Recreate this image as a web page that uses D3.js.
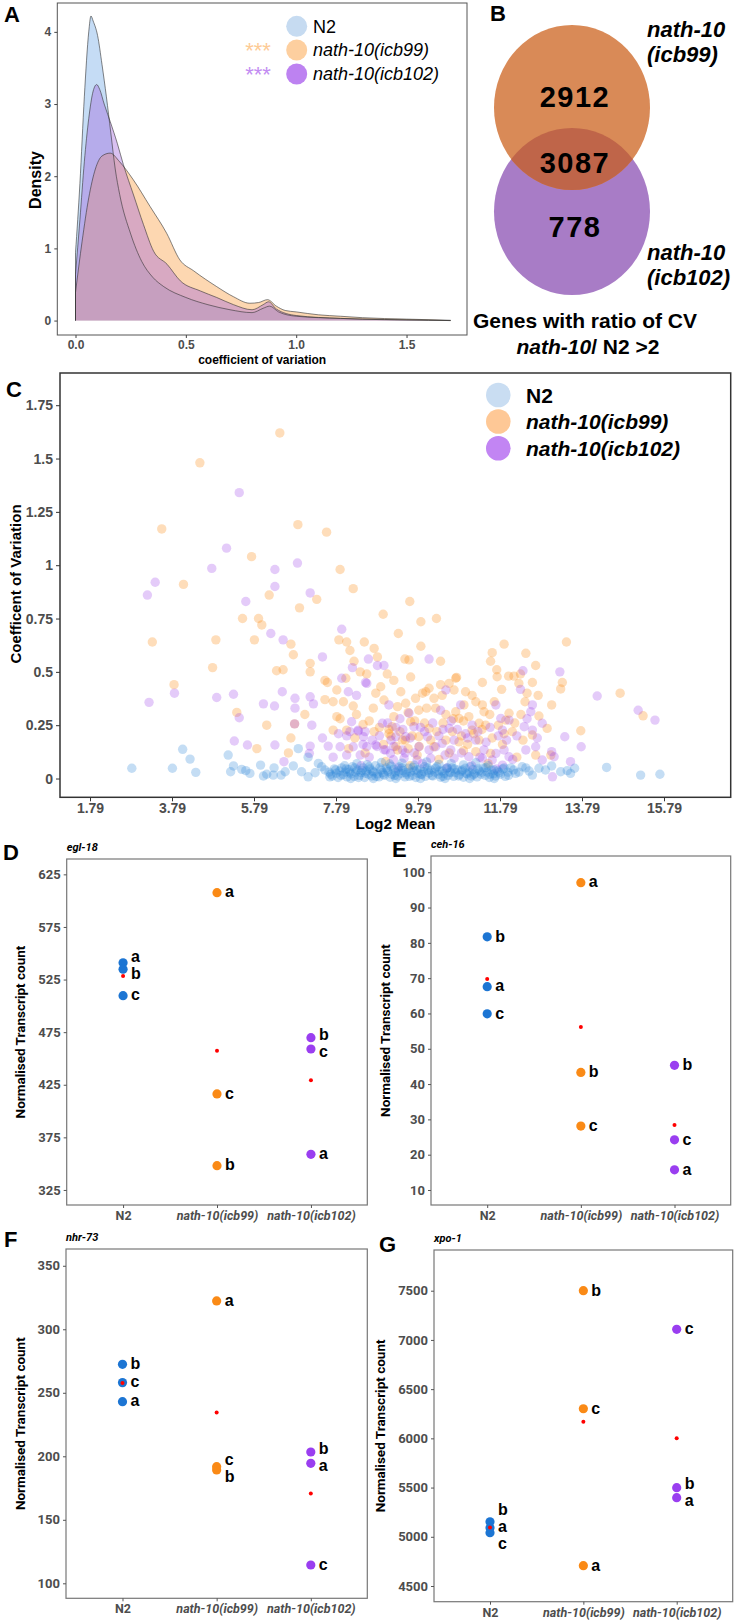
<!DOCTYPE html>
<html><head><meta charset="utf-8">
<script src="https://cdn.jsdelivr.net/npm/d3@7"></script>
<style>body{margin:0;background:#fff}svg{display:block}</style>
</head><body>
<svg id="fig" width="739" height="1621"></svg>
<script>
// ---------------- DATA ----------------
// Panel A: density of coefficient of variation
const densX_N2   = [0,0.02,0.04,0.06,0.07,0.08,0.10,0.12,0.14,0.16,0.18,0.20,0.25,0.30,0.35,0.40,0.50,0.60,0.70,0.80,0.85,0.88,0.92,1.0,1.2,1.4,1.6,1.7];
const densY_N2   = [0.94,1.9,3.1,4.0,4.22,4.15,3.95,3.55,3.1,2.6,2.1,1.75,1.2,0.82,0.6,0.47,0.32,0.22,0.15,0.11,0.17,0.2,0.12,0.06,0.03,0.015,0.005,0];
const densX_icb99 = [0,0.03,0.06,0.09,0.12,0.157,0.2,0.262,0.338,0.413,0.473,0.535,0.64,0.716,0.79,0.83,0.87,0.91,0.95,1.0,1.1,1.2,1.3,1.5,1.7];
const densY_icb99 = [0.39,1.1,1.7,2.1,2.28,2.32,2.2,1.95,1.58,1.21,0.84,0.69,0.47,0.33,0.24,0.25,0.29,0.2,0.14,0.12,0.08,0.06,0.04,0.02,0.004];
const densX_icb102 = [0,0.02,0.04,0.06,0.08,0.096,0.11,0.13,0.157,0.19,0.217,0.263,0.308,0.354,0.415,0.475,0.566,0.64,0.716,0.80,0.85,0.875,0.91,1.0,1.2,1.4,1.6,1.7];
const densY_icb102 = [0.64,1.4,2.2,2.8,3.18,3.27,3.2,3.0,2.76,2.45,2.16,1.74,1.33,0.96,0.78,0.55,0.41,0.32,0.22,0.15,0.22,0.26,0.16,0.07,0.03,0.012,0.004,0];
const densTicksX = [0,0.5,1,1.5];
const densTicksY = [0,1,2,3,4];

// Panel B: Venn counts
const vennCounts = [2912, 3087, 778];

// Panel C: scatter [log2 mean, CV]
const scatN2 = [[2.81,0.048],[3.80,0.048],[4.05,0.137],[4.23,0.091],[4.37,0.029],[5.16,0.11],[5.29,0.059],[5.22,0.032],[5.49,0.043],[5.59,0.037],[5.69,0.024],[5.95,0.063],[6.02,0.012],[6.10,0.02],[6.28,0.05],[6.26,0.016],[6.45,0.016],[6.55,0.032],[6.75,0.059],[6.87,0.14],[6.95,0.032],[7.11,0.10],[7.11,0.008],[7.28,0.027],[7.36,0.071],[7.44,0.055],[7.52,0.04],[7.64,0.008],
[7.62,0.03],[7.70,0.012],[7.75,0.045],[7.80,0.025],[7.84,0.005],[7.88,0.035],[7.93,0.05],[7.97,0.018],[8.02,0.03],[8.06,0.008],[8.10,0.042],[8.15,0.022],[8.19,0.055],[8.23,0.01],[8.27,0.03],[8.31,0.04],[8.36,0.015],[8.40,0.028],[8.45,0.05],[8.49,0.005],[8.53,0.035],[8.58,0.02],[8.62,0.045],[8.66,0.012],[8.71,0.03],[8.75,0.06],[8.80,0.022],[8.84,0.008],[8.89,0.04],[8.93,0.028],[8.97,0.015],[9.02,0.05],[9.06,0.032],[9.11,0.006],[9.15,0.02],[9.20,0.044],[9.24,0.03],[9.29,0.012],[9.33,0.056],[9.38,0.025],[9.42,0.038],[9.47,0.008],[9.51,0.02],[9.56,0.048],[9.60,0.03],[9.65,0.014],[9.70,0.036],[9.74,0.005],[9.79,0.025],[9.84,0.045],[9.88,0.018],[9.93,0.032],[9.97,0.01],[10.02,0.05],[10.06,0.026],[10.11,0.04],[10.15,0.012],[10.20,0.03],[10.25,0.055],[10.29,0.02],[10.34,0.006],[10.38,0.036],[10.43,0.024],[10.48,0.045],[10.52,0.014],[10.57,0.03],[10.62,0.05],[10.66,0.01],[10.71,0.028],[10.76,0.04],[10.80,0.018],[10.85,0.034],[10.90,0.006],[10.94,0.048],[10.99,0.022],[11.04,0.03],[11.09,0.012],[11.13,0.042],[11.18,0.025],[11.23,0.008],[11.28,0.036],[11.33,0.02],[11.38,0.05],[11.43,0.015],[11.48,0.03],[11.53,0.005],[11.58,0.04],[11.63,0.022],[11.68,0.012],[11.74,0.035],[11.80,0.02],[11.86,0.045],[11.92,0.01],[11.98,0.03],[12.05,0.05],
[8.0,0.06],[8.3,0.07],[8.55,0.065],[8.9,0.075],[9.1,0.068],[9.4,0.072],[9.7,0.062],[10.0,0.078],[10.3,0.066],[10.6,0.07],[10.9,0.064],[11.2,0.074],[11.5,0.06],[8.15,0.0],[8.7,0.0],[9.25,0.0],[9.85,0.0],[10.45,0.0],[11.05,0.0],[11.65,0.0],
[7.66,0.02],[7.78,0.04],[7.91,0.015],[8.04,0.045],[8.12,0.03],[8.25,0.05],[8.34,0.005],[8.42,0.038],[8.51,0.025],[8.6,0.055],[8.68,0.035],[8.77,0.01],[8.86,0.05],[8.95,0.02],[9.04,0.04],[9.13,0.058],[9.22,0.015],[9.31,0.035],[9.4,0.05],[9.49,0.028],[9.58,0.01],[9.67,0.052],[9.76,0.04],[9.86,0.02],[9.95,0.055],[10.04,0.038],[10.13,0.015],[10.22,0.048],[10.31,0.035],[10.4,0.01],[10.5,0.05],[10.59,0.028],[10.68,0.045],[10.78,0.012],[10.87,0.04],[10.96,0.025],[11.06,0.055],[11.15,0.018],[11.25,0.045],[11.35,0.03],[11.45,0.052],[11.55,0.02],[11.65,0.04],[11.77,0.028],[11.89,0.05],[12.0,0.015],[12.12,0.04],[12.25,0.03],[12.42,0.05],[12.5,0.035],
[12.33,0.055],[12.74,0.048],[12.90,0.04],[13.05,0.059],[13.27,0.032],[13.43,0.037],[13.61,0.048],[12.17,0.024],[12.58,0.016],[13.51,0.024],[14.39,0.052],[15.22,0.016],[15.69,0.02]];

const scatIcb99 = [[6.42,1.62],[4.47,1.48],[3.54,1.17],[6.86,1.19],[7.56,1.155],[5.73,1.04],[7.89,0.98],[4.07,0.91],[8.21,0.89],[6.16,0.86],[7.32,0.84],[6.90,0.80],[5.51,0.75],[5.90,0.75],[5.98,0.72],[3.31,0.64],[4.86,0.65],[5.80,0.65],[6.69,0.63],[6.75,0.58],[7.86,0.65],[8.05,0.64],[8.13,0.60],[8.23,0.55],[8.48,0.64],[7.16,0.54],[7.16,0.50],[4.78,0.52],[6.34,0.505],[6.50,0.51],[8.38,0.50],[8.54,0.49],[7.52,0.46],[7.58,0.45],[8.03,0.47],[3.84,0.44],
[9.59,0.83],[8.94,0.77],[9.86,0.735],[10.24,0.75],[9.31,0.68],[9.86,0.62],[13.41,0.64],[11.89,0.63],[11.60,0.59],[12.42,0.587],[8.72,0.61],[8.80,0.57],[9.47,0.56],[9.57,0.556],[10.34,0.55],[11.56,0.55],[11.71,0.51],[12.66,0.53],[9.61,0.476],[10.71,0.47],[11.72,0.477],[12.00,0.48],[12.13,0.48],[9.04,0.49],[9.20,0.46],[11.36,0.45],[13.31,0.45],[12.58,0.45],
[5.37,0.31],[6.10,0.25],[5.86,0.14],[6.69,0.19],[6.63,0.12],[7.03,0.30],[7.81,0.29],[7.89,0.28],[7.52,0.37],[7.72,0.36],[7.97,0.36],[7.81,0.415],[7.72,0.227],[8.21,0.34],[8.29,0.30],[8.05,0.227],
[13.27,0.42],[14.72,0.40],[15.28,0.294],[13.76,0.224],[13.05,0.345],[12.94,0.235],[12.74,0.293],[12.72,0.39],[12.45,0.40],[12.25,0.446],[12.29,0.49],[11.83,0.418],[12.01,0.306],[11.93,0.274],[11.89,0.21],[12.09,0.22],[12.35,0.18],[12.58,0.204],[13.03,0.11],[12.66,0.11],[11.44,0.25],[11.54,0.30],[11.36,0.345],[11.20,0.36],[11.11,0.39],[10.95,0.407],[10.91,0.345],[10.67,0.415],[10.73,0.474],[10.55,0.446],[10.34,0.44],[10.38,0.39],[10.18,0.376],[10.06,0.423],[9.98,0.407],[9.90,0.40],[9.73,0.376],[9.37,0.407],[8.88,0.43],[8.76,0.40],[8.96,0.368],[9.29,0.337],[9.49,0.353],[9.81,0.32],[10.22,0.33],[10.47,0.30],[10.79,0.282],[11.03,0.29],[11.28,0.259],[9.16,0.243],[9.61,0.266],[10.06,0.235],[11.11,0.227],[10.63,0.22],[10.47,0.18],[9.81,0.196],[9.41,0.18],[9.08,0.21],[8.72,0.22],[10.18,0.149],[10.79,0.172],[11.20,0.126],[11.56,0.118],[9.29,0.134],[9.77,0.11],[11.28,0.18],[11.40,0.313],[10.71,0.313],
[8.45,0.253],[9.08,0.23],[9.13,0.198],[9.71,0.27],[9.82,0.15],[9.48,0.18],[9.25,0.15],[8.5,0.12],[9.0,0.08],[9.6,0.06],[10.3,0.09],[10.9,0.13],[11.5,0.07],[12.2,0.1],[6.78,0.256],
[8.1,0.14],[8.25,0.19],[8.6,0.27],[8.85,0.24],[8.95,0.16],[9.2,0.29],[9.35,0.22],[9.55,0.14],[9.65,0.2],[9.95,0.26],[10.1,0.18],[10.25,0.22],[10.4,0.26],[10.55,0.12],[10.65,0.28],[10.85,0.2],[11.0,0.16],[11.15,0.21],[11.35,0.23],[11.6,0.19],[11.75,0.25],[11.85,0.16],[12.15,0.26],[12.3,0.3],[8.7,0.33],[9.55,0.31],[10.0,0.33],[10.9,0.27],[11.65,0.36],[12.4,0.36]];

const scatIcb102 = [[5.43,1.34],[5.12,1.08],[4.76,0.985],[3.38,0.92],[3.19,0.86],[6.30,0.98],[6.85,1.01],[6.30,0.90],[5.59,0.83],[7.16,0.87],[6.20,0.68],[6.50,0.65],[7.93,0.70],[7.46,0.57],[8.19,0.52],[7.93,0.47],[8.58,0.56],[8.51,0.45],
[10.06,0.56],[8.96,0.53],[8.80,0.53],[12.35,0.505],[13.25,0.50],
[3.23,0.357],[3.85,0.40],[4.88,0.38],[5.29,0.395],[5.43,0.285],[6.02,0.35],[6.29,0.34],[6.48,0.407],[6.79,0.376],[6.79,0.33],[7.16,0.383],[7.24,0.35],[7.20,0.25],[5.31,0.176],[5.63,0.157],[6.30,0.157],[6.52,0.079],[7.16,0.152],[7.14,0.118],[7.46,0.19],[7.60,0.152],[7.72,0.10],[8.09,0.407],[8.29,0.39],[8.54,0.446],[7.85,0.21],[8.13,0.22],[8.46,0.196],[8.33,0.227],[8.17,0.266],[7.89,0.149],[8.21,0.149],[8.05,0.11],[8.38,0.11],[8.54,0.149],
[14.16,0.387],[15.16,0.32],[15.57,0.274],[13.37,0.196],[13.77,0.149],[12.29,0.418],[12.58,0.345],[12.54,0.313],[12.38,0.243],[12.58,0.227],[12.82,0.259],[12.42,0.134],[12.66,0.149],[13.05,0.126],[12.82,0.087],[13.11,0.102],[13.51,0.079],[10.47,0.415],[10.34,0.32],[11.69,0.345],[11.81,0.282],[12.01,0.274],[11.85,0.227],[11.89,0.134],[12.01,0.102],[11.69,0.118],[11.40,0.134],[11.20,0.18],[11.11,0.25],[10.95,0.21],[10.55,0.235],[10.67,0.18],[10.38,0.165],[10.59,0.134],[10.22,0.149],[10.02,0.196],[10.06,0.134],[9.81,0.149],[9.57,0.306],[9.69,0.243],[9.49,0.196],[9.41,0.134],[9.08,0.345],[8.92,0.259],[8.76,0.157],[9.00,0.134],[9.25,0.196],[9.12,0.118],[9.45,0.095],[9.77,0.087],[10.10,0.095],[10.67,0.095],[11.03,0.102],[11.36,0.095],[11.60,0.087],[11.85,0.063],[13.07,0.008],[10.83,0.345],
[8.33,0.222],[8.67,0.18],[8.79,0.15],[9.13,0.18],[9.42,0.23],[9.48,0.12],[9.19,0.088],[8.96,0.135],[8.4,0.06],[9.3,0.05],[9.9,0.07],[10.5,0.05],[11.1,0.06],[11.7,0.045],[12.1,0.09],[6.78,0.256],
[8.05,0.2],[8.5,0.22],[8.6,0.1],[8.85,0.2],[9.05,0.26],[9.2,0.15],[9.35,0.28],[9.6,0.19],[9.7,0.12],[9.95,0.22],[10.15,0.26],[10.3,0.2],[10.45,0.11],[10.6,0.27],[10.75,0.23],[10.85,0.12],[11.0,0.19],[11.25,0.22],[11.45,0.17],[11.55,0.24],[11.75,0.2],[11.95,0.18],[12.2,0.2],[12.45,0.28],[9.25,0.24],[9.85,0.24],[10.4,0.23],[11.3,0.1],[8.45,0.16],[12.7,0.19]];
const scatTicksX = [1.79,3.79,5.79,7.79,9.79,11.79,13.79,15.79];
const scatTicksY = [0,0.25,0.5,0.75,1,1.25,1.5,1.75];

// Panels D-G: normalised transcript counts per replicate
const groups = ["N2","nath-10(icb99)","nath-10(icb102)"];
const replicates = ["a","b","c"];
const egl18_N2 = [541,534.8,509.7],  egl18_icb99 = [607.6,348.1,416.3], egl18_icb102 = [358.9,469.8,459];
const ceh16_N2 = [67.6,81.7,59.9],   ceh16_icb99 = [97.05,43.3,28.1],   ceh16_icb102 = [15.7,45.3,24.2];
const nhr73_N2 = [243,272.4,258],    nhr73_icb99 = [322.3,189.2,191.8], nhr73_icb102 = [194.5,203.4,114.4];
const xpo1_N2  = [5092,5153,5041],   xpo1_icb99  = [4706,7500,6301],    xpo1_icb102  = [5397,5498.7,7108];
const ticksD = [325,375,425,475,525,575,625];
const ticksE = [10,20,30,40,50,60,70,80,90,100];
const ticksF = [100,150,200,250,300,350];
const ticksG = [4500,5000,5500,6000,6500,7000,7500];

// ---------------- DRAWING ----------------
const svg = d3.select("#fig");
const FA = '"Liberation Sans", Arial, Helvetica, sans-serif';
const FR = 'Roboto, "Liberation Sans", Arial, sans-serif';
const GRAY = "#4d4d4d";

function panelLetter(t,x,y){
  svg.append("text").attr("x",x).attr("y",y).text(t)
    .attr("font-family",FA).attr("font-weight","bold").attr("font-size",22).attr("fill","#000");
}

// ===== Panel A =====
(function(){
  const L=57.3,R=467,T=3,B=335;
  const x=d3.scaleLinear().domain([-0.0825,1.774]).range([L,R]);
  const y=d3.scaleLinear().domain([-0.2,4.4]).range([B,T]);
  const g=svg.append("g");
  g.append("clipPath").attr("id","clipA").append("rect").attr("x",L).attr("y",T).attr("width",R-L).attr("height",B-T);
  const series=[
    {xs:densX_N2,ys:densY_N2,fill:"rgba(140,185,235,0.5)"},
    {xs:densX_icb99,ys:densY_icb99,fill:"rgba(252,175,100,0.5)"},
    {xs:densX_icb102,ys:densY_icb102,fill:"rgba(160,100,220,0.4)"}
  ];
  const area=d3.area().x(d=>x(d[0])).y0(y(0)).y1(d=>y(d[1])).curve(d3.curveMonotoneX);
  const line=d3.line().x(d=>x(d[0])).y(d=>y(d[1])).curve(d3.curveMonotoneX);
  const pg=g.append("g").attr("clip-path","url(#clipA)");
  series.forEach(s=>{
    const pts=s.xs.map((v,i)=>[v,s.ys[i]]);
    pg.append("path").attr("d",area(pts)).attr("fill",s.fill);
  });
  series.forEach(s=>{
    const pts=s.xs.map((v,i)=>[v,s.ys[i]]);
    pg.append("path").attr("d",line(pts)).attr("fill","none").attr("stroke","#333").attr("stroke-width",0.6);
    pg.append("line").attr("x1",x(pts[0][0])).attr("x2",x(pts[0][0])).attr("y1",y(0)).attr("y2",y(pts[0][1])).attr("stroke","#333").attr("stroke-width",0.6);
  });
  g.append("rect").attr("x",L).attr("y",T).attr("width",R-L).attr("height",B-T).attr("fill","none").attr("stroke","#555").attr("stroke-width",1);
  const ya=g.append("g").attr("transform",`translate(${L},0)`).call(d3.axisLeft(y).tickValues(densTicksY).tickSize(3).tickPadding(3).tickFormat(d3.format("d")));
  const xa=g.append("g").attr("transform",`translate(0,${B})`).call(d3.axisBottom(x).tickValues(densTicksX).tickSize(3).tickPadding(2).tickFormat(d3.format(".1f")));
  [ya,xa].forEach(a=>{a.select(".domain").remove();a.selectAll("line").attr("stroke","#444");
    a.selectAll("text").attr("font-family",FA).attr("font-weight","bold").attr("font-size",12).attr("fill",GRAY);});
  g.append("text").attr("transform","translate(41,180) rotate(-90)").attr("text-anchor","middle").text("Density")
    .attr("font-family",FA).attr("font-weight","bold").attr("font-size",16);
  g.append("text").attr("x",(L+R)/2).attr("y",364).attr("text-anchor","middle").text("coefficient of variation")
    .attr("font-family",FA).attr("font-weight","bold").attr("font-size",12);
  // legend
  const leg=[{t:"N2",c:"#c6dbf1",it:false,y:26.3},{t:"nath-10(icb99)",c:"#fdcf9f",it:true,y:50},{t:"nath-10(icb102)",c:"#bd82f1",it:true,y:74}];
  leg.forEach(d=>{
    g.append("circle").attr("cx",296.7).attr("cy",d.y).attr("r",10.5).attr("fill",d.c);
    g.append("text").attr("x",313).attr("y",d.y).attr("dy","0.35em").text(d.t).attr("font-family",FA)
      .attr("font-size",18).attr("font-style",d.it?"italic":"normal").attr("fill","#000");
  });
  g.append("text").attr("x",258).attr("y",58).attr("text-anchor","middle").text("***").attr("font-family",FA).attr("font-size",22).attr("fill","#fdcb96");
  g.append("text").attr("x",258).attr("y",82).attr("text-anchor","middle").text("***").attr("font-family",FA).attr("font-size",22).attr("fill","#c38df2");
  panelLetter("A",4,22);
})();

// ===== Panel B =====
(function(){
  const g=svg.append("g");
  const cx=572, rx=78;
  const top={cy:107.5,ry:82.5}, bot={cy:211.5,ry:83.5};
  g.append("clipPath").attr("id","clipB").append("ellipse").attr("cx",cx).attr("cy",top.cy).attr("rx",rx).attr("ry",top.ry);
  g.append("ellipse").attr("cx",cx).attr("cy",bot.cy).attr("rx",rx).attr("ry",bot.ry).attr("fill","#a87cc6");
  g.append("ellipse").attr("cx",cx).attr("cy",top.cy).attr("rx",rx).attr("ry",top.ry).attr("fill","#d98a57");
  g.append("ellipse").attr("cx",cx).attr("cy",bot.cy).attr("rx",rx).attr("ry",bot.ry).attr("fill","#bf6549").attr("clip-path","url(#clipB)");
  const ys=[97,163,227];
  vennCounts.forEach((v,i)=>{
    g.append("text").attr("x",575).attr("y",ys[i]).attr("dy","0.36em").attr("text-anchor","middle").text(v)
      .attr("font-family",FA).attr("font-weight","bold").attr("font-size",29).attr("letter-spacing",1.5).attr("fill","#000");
  });
  const lab=(t,x,y)=>g.append("text").attr("x",x).attr("y",y).text(t).attr("font-family",FA).attr("font-weight","bold")
      .attr("font-style","italic").attr("font-size",22).attr("fill","#000");
  lab("nath-10",647,37); lab("(icb99)",647,62);
  lab("nath-10",647,260); lab("(icb102)",647,285);
  g.append("text").attr("x",585).attr("y",328).attr("text-anchor","middle").text("Genes with ratio of CV")
    .attr("font-family",FA).attr("font-weight","bold").attr("font-size",21);
  const t2=g.append("text").attr("x",588).attr("y",354).attr("text-anchor","middle")
    .attr("font-family",FA).attr("font-weight","bold").attr("font-size",21);
  t2.append("tspan").attr("font-style","italic").text("nath-10");
  t2.append("tspan").text("/ N2 >2");
  panelLetter("B",490,21);
})();

// ===== Panel C =====
(function(){
  const L=60,R=730.7,T=373,B=797.3;
  const x=d3.scaleLinear().domain([1.79-30/41,1.79+640.7/41]).range([L,R]);
  const y=d3.scaleLinear().domain([-0.088,1.901]).range([B,T]);
  const g=svg.append("g");
  g.append("clipPath").attr("id","clipC").append("rect").attr("x",L).attr("y",T).attr("width",R-L).attr("height",B-T);
  const pg=g.append("g").attr("clip-path","url(#clipC)");
  const sets=[{d:scatIcb99,c:"#fd8d1c",o:0.3},{d:scatIcb102,c:"#9b3fe8",o:0.27},{d:scatN2,c:"#2a84d8",o:0.28}];
  sets.forEach(s=>{
    pg.append("g").selectAll("circle").data(s.d).join("circle")
      .attr("cx",d=>x(d[0])).attr("cy",d=>y(d[1])).attr("r",4.7).attr("fill",s.c).attr("fill-opacity",s.o);
  });
  g.append("rect").attr("x",L).attr("y",T).attr("width",R-L).attr("height",B-T).attr("fill","none").attr("stroke","#333").attr("stroke-width",1.5);
  const ya=g.append("g").attr("transform",`translate(${L},0)`).call(d3.axisLeft(y).tickValues(scatTicksY).tickSize(4).tickPadding(3).tickFormat(d=>String(d)));
  const xa=g.append("g").attr("transform",`translate(0,${B})`).call(d3.axisBottom(x).tickValues(scatTicksX).tickSize(4).tickPadding(2).tickFormat(d=>d.toFixed(2)));
  [ya,xa].forEach(a=>{a.select(".domain").remove();a.selectAll("line").attr("stroke","#333");
    a.selectAll("text").attr("font-family",FA).attr("font-weight","bold").attr("font-size",14).attr("fill",GRAY);});
  g.append("text").attr("transform","translate(21,584) rotate(-90)").attr("text-anchor","middle").text("Coefficent of Variation")
    .attr("font-family",FA).attr("font-weight","bold").attr("font-size",15);
  g.append("text").attr("x",(L+R)/2).attr("y",829).attr("text-anchor","middle").text("Log2 Mean")
    .attr("font-family",FA).attr("font-weight","bold").attr("font-size",15.3);
  const leg=[{t:"N2",c:"#c9ddf2",it:false,y:395},{t:"nath-10(icb99)",c:"#fec896",it:true,y:421.5},{t:"nath-10(icb102)",c:"#c285f3",it:true,y:448.3}];
  leg.forEach(d=>{
    g.append("circle").attr("cx",498.3).attr("cy",d.y).attr("r",12.3).attr("fill",d.c);
    g.append("text").attr("x",526).attr("y",d.y).attr("dy","0.36em").text(d.t).attr("font-family",FA).attr("font-weight","bold")
      .attr("font-size",21).attr("font-style",d.it?"italic":"normal").attr("fill","#000");
  });
  panelLetter("C",6,397);
})();

// ===== Panels D-G =====
function dotPanel(cfg){
  const {L,R,T,B,dom,ticks,vals,title,letter,lx,ly}=cfg;
  const g=svg.append("g");
  const x=d3.scalePoint().domain(groups).range([L,R]).padding(0.6);
  const y=d3.scaleLinear().domain(dom).range([B,T]);
  g.append("rect").attr("x",L).attr("y",T).attr("width",R-L).attr("height",B-T).attr("fill","none").attr("stroke","#777").attr("stroke-width",1.2);
  const ya=g.append("g").attr("transform",`translate(${L},0)`).call(d3.axisLeft(y).tickValues(ticks).tickSize(3).tickPadding(3).tickFormat(d3.format("d")));
  const xa=g.append("g").attr("transform",`translate(0,${B})`).call(d3.axisBottom(x).tickSize(3).tickPadding(3));
  [ya,xa].forEach(a=>{a.select(".domain").remove();a.selectAll("line").attr("stroke","#555");
    a.selectAll("text").attr("font-family",FR).attr("font-weight","bold").attr("fill",GRAY);});
  ya.selectAll("text").attr("font-size",13);
  xa.selectAll("text").attr("font-size",12.5).attr("font-style",d=>d==="N2"?"normal":"italic");
  let maxW=0; ya.selectAll("text").each(function(){maxW=Math.max(maxW,this.getComputedTextLength());});
  g.append("text").attr("transform",`translate(${L-maxW-6-13},${(T+B)/2}) rotate(-90)`).attr("text-anchor","middle")
    .text("Normalised Transcript count").attr("font-family",FR).attr("font-weight","bold").attr("font-size",13.5).attr("fill","#000");
  g.append("text").attr("x",L).attr("y",T-8).text(title).attr("font-family",FR).attr("font-weight","bold").attr("font-style","italic").attr("font-size",11);
  const colors=["#1c75d3","#fa8a16","#9a3ef0"];
  const GAP=17;
  vals.forEach((arr,gi)=>{
    const px=x(groups[gi]);
    const pts=arr.map((v,i)=>({v,lab:replicates[i],py:y(v)}));
    pts.forEach(p=>g.append("circle").attr("cx",px).attr("cy",p.py).attr("r",4.6).attr("fill",colors[gi]));
    g.append("circle").attr("cx",px).attr("cy",y(d3.mean(arr))).attr("r",2).attr("fill","#ff0000");
    // simple label repel
    const ls=pts.map(p=>({...p,ly:p.py})).sort((a,b)=>a.ly-b.ly);
    for(let it=0;it<80;it++){let mv=false;
      for(let i=1;i<ls.length;i++){const d=ls[i].ly-ls[i-1].ly; if(d<GAP-0.01){const s=(GAP-d)/2;ls[i].ly+=s;ls[i-1].ly-=s;mv=true;}}
      if(!mv)break;}
    ls.forEach(p=>g.append("text").attr("x",px+8).attr("y",p.ly).attr("dy","0.3em").text(p.lab)
      .attr("font-family",FA).attr("font-weight","bold").attr("font-size",16).attr("fill","#000"));
  });
  panelLetter(letter,lx,ly);
}
dotPanel({L:66.7,R:367.3,T:859,B:1205,dom:[310.7,639.6],ticks:ticksD,vals:[egl18_N2,egl18_icb99,egl18_icb102],title:"egl-18",letter:"D",lx:3,ly:860});
dotPanel({L:431,R:730.7,T:856,B:1205,dom:[5.75,104.6],ticks:ticksE,vals:[ceh16_N2,ceh16_icb99,ceh16_icb102],title:"ceh-16",letter:"E",lx:392,ly:857});
dotPanel({L:66,R:367.3,T:1249,B:1598.3,dom:[88.2,363.2],ticks:ticksF,vals:[nhr73_N2,nhr73_icb99,nhr73_icb102],title:"nhr-73",letter:"F",lx:4,ly:1247});
dotPanel({L:434,R:732.7,T:1250,B:1601.7,dom:[4340.5,7913.6],ticks:ticksG,vals:[xpo1_N2,xpo1_icb99,xpo1_icb102],title:"xpo-1",letter:"G",lx:379,ly:1252});
</script>
</body></html>
